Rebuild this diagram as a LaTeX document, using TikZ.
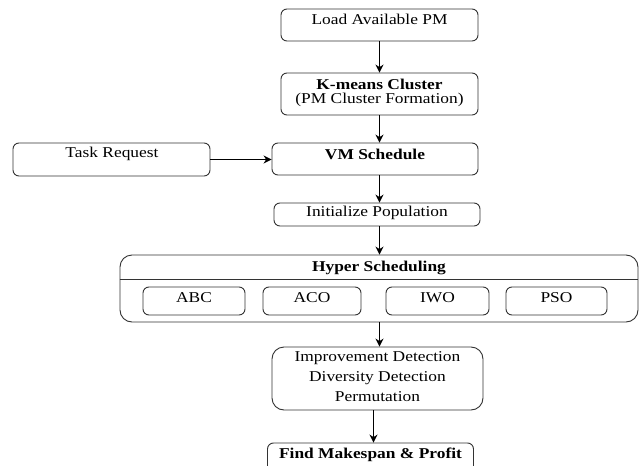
\documentclass[tikz,border=0pt]{standalone}
\usepackage{fontspec}
\setmainfont{Liberation Serif}[FakeStretch=1.16]
\usetikzlibrary{arrows.meta,calc}
\begin{document}
\begin{tikzpicture}[x=1pt,y=-1pt,
  rbox/.style={draw=black!80, line width=0.9pt, rounded corners=6pt, inner sep=0pt, fill=white},
  txt/.style={inner sep=0pt, font=\fontsize{15}{15}\selectfont, align=center},
  btxt/.style={txt, font=\fontsize{15}{15}\selectfont\bfseries},
  arr/.style={draw=black, line width=1pt, -{Stealth[length=8pt,width=8pt]}}]
\clip (0,0) rectangle (641,466);
\fill[white] (0,0) rectangle (641,466);
% boxes
\node[rbox, minimum width=197pt, minimum height=32pt] (load) at (379.5,25) {};
\node[rbox, minimum width=197pt, minimum height=42pt] (kmeans) at (379.5,94) {};
\node[rbox, minimum width=206pt, minimum height=32pt] (vm) at (375,159) {};
\node[rbox, minimum width=197pt, minimum height=33pt] (task) at (111.5,159.5) {};
\node[rbox, minimum width=206pt, minimum height=23pt] (init) at (377,214.5) {};
\node[rbox, minimum width=518pt, minimum height=67pt, rounded corners=12pt] (hyper) at (379,288.5) {};
\node[rbox, minimum width=102pt, minimum height=28pt] (abc) at (194,301) {};
\node[rbox, minimum width=98pt, minimum height=28pt] (aco) at (312,301) {};
\node[rbox, minimum width=103pt, minimum height=28pt] (iwo) at (437.5,301) {};
\node[rbox, minimum width=101pt, minimum height=28pt] (pso) at (556.5,301) {};
\node[rbox, minimum width=211pt, minimum height=63pt, rounded corners=12pt] (improv) at (377.5,378.5) {};
\node[rbox, minimum width=206pt, minimum height=29pt] (find) at (370.5,457.5) {};
% header separator
\coordinate (hl) at (0,279);
\draw[draw=black!80, line width=0.9pt] (hyper.west |- hl) -- (hyper.east |- hl);
% texts
\node[txt] (tload) at (379.5,19) {Load Available PM};
\node[btxt] (tk1) at (379.5,84) {K-means Cluster};
\node[txt] (tk2) at (379.5,99.5) {(PM Cluster Formation)};
\node[btxt] (tvm) at (375,154) {VM Schedule};
\node[txt] (ttask) at (112,154) {Task Request};
\node[txt] (tinit) at (377,213) {Initialize Population};
\node[btxt] (thyper) at (379,268) {Hyper Scheduling};
\node[txt] (tabc) at (194,298) {ABC};
\node[txt] (taco) at (312,298) {ACO};
\node[txt] (tiwo) at (437.5,298) {IWO};
\node[txt] (tpso) at (556.5,298) {PSO};
\node[txt] (ti1) at (377.5,358) {Improvement Detection};
\node[txt] (ti2) at (377.5,378) {Diversity Detection};
\node[txt] (ti3) at (377.5,397) {Permutation};
\node[btxt] (tfind) at (370.5,455) {Find Makespan \& Profit};
% connectors
\draw[arr] (load.south) -- (kmeans.north);
\draw[arr] (kmeans.south) -- (kmeans.south |- vm.north);
\draw[arr] (task.east) -- (task.east -| vm.west);
\draw[arr] (kmeans.south |- vm.south) -- (kmeans.south |- init.north);
\draw[arr] (kmeans.south |- init.south) -- (kmeans.south |- hyper.north);
\draw[arr] (kmeans.south |- hyper.south) -- (kmeans.south |- improv.north);
\coordinate (fx) at (373.5,0);
\draw[arr] (fx |- improv.south) -- (fx |- find.north);
\end{tikzpicture}
\end{document}
